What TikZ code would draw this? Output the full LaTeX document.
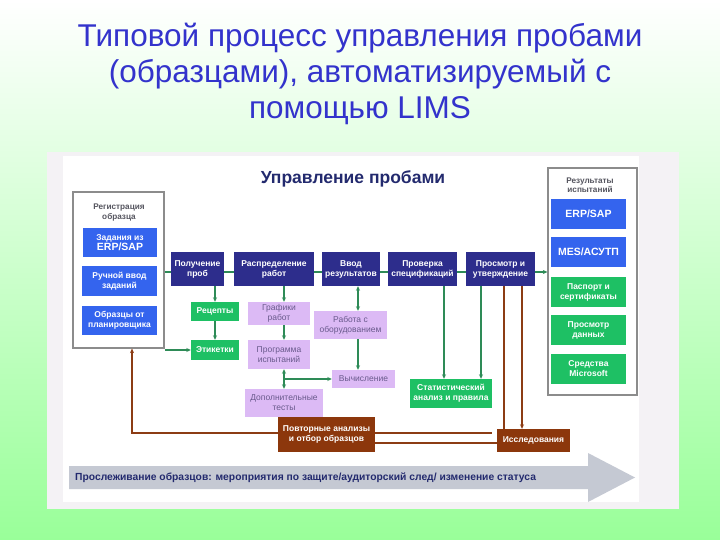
\documentclass[tikz,border=0pt]{standalone}
\usepackage{fontspec}
\setmainfont{Liberation Sans}
\usetikzlibrary{arrows.meta}
\definecolor{cTitle}{RGB}{51,51,204}
\definecolor{cHead}{RGB}{35,42,110}
\definecolor{cNavy}{RGB}{45,45,140}
\definecolor{cBlue}{RGB}{52,100,238}
\definecolor{cGreen}{RGB}{30,192,100}
\definecolor{cPurple}{RGB}{220,186,245}
\definecolor{cPurpleText}{RGB}{105,90,140}
\definecolor{cBrown}{RGB}{140,55,12}
\definecolor{cGLine}{RGB}{46,139,87}
\definecolor{cBLine}{RGB}{140,60,20}
\definecolor{cGrayBorder}{RGB}{140,140,140}
\definecolor{cGroupText}{RGB}{85,85,95}
\definecolor{cFrame}{RGB}{244,242,245}
\definecolor{cArrow}{RGB}{197,201,211}
\definecolor{cBgBottom}{RGB}{153,255,153}
\tikzset{
  base/.style={inner sep=1pt, align=center, font=\fontsize{8.5}{10}\selectfont\bfseries, text=white},
  navybox/.style={base, fill=cNavy},
  bluebox/.style={base, fill=cBlue},
  greenbox/.style={base, fill=cGreen},
  purplebox/.style={base, fill=cPurple, text=cPurpleText, font=\fontsize{8.5}{10}\selectfont},
  brownbox/.style={base, fill=cBrown},
  bigtext/.style={font=\fontsize{10.5}{12}\selectfont\bfseries},
  groupbox/.style={draw=cGrayBorder, line width=1.2pt, fill=white, inner sep=0pt},
  grouptitle/.style={align=center, text=cGroupText, font=\fontsize{8.2}{9.5}\selectfont\bfseries, inner sep=0pt},
  gline/.style={draw=cGLine, line width=1.3pt},
  garrow/.style={gline, -{Stealth[length=4.5pt,width=4pt]}},
  gdarrow/.style={gline, {Stealth[length=4.5pt,width=4pt]}-{Stealth[length=4.5pt,width=4pt]}},
  bline/.style={draw=cBLine, line width=1.3pt},
  barrow/.style={bline, -{Stealth[length=4.5pt,width=4pt]}},
  titletext/.style={text=cTitle, font=\fontsize{31.5}{36}\selectfont, inner sep=0pt, anchor=base},
}
\begin{document}
\begin{tikzpicture}[x=1pt,y=-1pt]
\useasboundingbox (0,0) rectangle (720,540);
\shade[top color=white, bottom color=cBgBottom] (0,0) rectangle (720,540);
% title
\node[titletext] (t1) at (360,47) {Типовой процесс управления пробами};
\node[titletext] (t2) at (360,83) {(образцами), автоматизируемый с};
\node[titletext] (t3) at (360,119) {помощью LIMS};
% screenshot frame
\fill[cFrame] (47,152) rectangle (679,509);
\fill[white] (63,156) rectangle (639,502);
\node[text=cHead, font=\fontsize{17.5}{20}\selectfont\bfseries, inner sep=0pt] (head) at (353,179) {Управление пробами};

% left group
\node[groupbox, minimum width=91pt, minimum height=156pt] (reg) at (118.5,270) {};
\node[grouptitle] (regt) at (119,212.5) {Регистрация\\образца};
\node[bluebox, minimum width=74pt, minimum height=29pt, font=\fontsize{8.5}{9.5}\selectfont\bfseries] (b1) at (120,242.5) {Задания из\\{\fontsize{10.5}{11}\selectfont ERP/SAP}};
\node[bluebox, minimum width=75pt, minimum height=30pt] (b2) at (119.5,281) {Ручной ввод\\заданий};
\node[bluebox, minimum width=75pt, minimum height=29pt] (b3) at (119.5,320.5) {Образцы от\\планировщика};

% results group
\node[groupbox, minimum width=89pt, minimum height=227pt] (res) at (592.5,281.5) {};
\node[grouptitle] (rest) at (590,185) {Результаты\\испытаний};
\node[bluebox, bigtext, minimum width=75pt, minimum height=30pt] (r1) at (588.5,214) {ERP/SAP};
\node[bluebox, bigtext, minimum width=75pt, minimum height=30pt] (r2) at (588.5,252) {MES/АСУТП};
\node[greenbox, minimum width=75pt, minimum height=30pt] (r3) at (588.5,292) {Паспорт и\\сертификаты};
\node[greenbox, minimum width=75pt, minimum height=30pt] (r4) at (588.5,330) {Просмотр\\данных};
\node[greenbox, minimum width=75pt, minimum height=30pt] (r5) at (588.5,369) {Средства\\Microsoft};

% main row
\node[navybox, minimum width=53pt, minimum height=34pt] (p1) at (197.5,269) {Получение\\проб};
\node[navybox, minimum width=80pt, minimum height=34pt] (p2) at (274,269) {Распределение\\работ};
\node[navybox, minimum width=58pt, minimum height=34pt] (p3) at (351,269) {Ввод\\результатов};
\node[navybox, minimum width=69pt, minimum height=34pt] (p4) at (422.5,269) {Проверка\\спецификаций};
\node[navybox, minimum width=69pt, minimum height=34pt] (p5) at (500.5,269) {Просмотр и\\утверждение};

% second level
\node[greenbox, minimum width=48pt, minimum height=19pt] (rec) at (215,311.5) {Рецепты};
\node[greenbox, minimum width=48pt, minimum height=20pt] (lab) at (215,350) {Этикетки};
\node[purplebox, minimum width=62pt, minimum height=23pt] (gr) at (279,313.5) {Графики\\работ};
\node[purplebox, minimum width=62pt, minimum height=29pt] (prog) at (279,354.5) {Программа\\испытаний};
\node[purplebox, minimum width=78pt, minimum height=28pt] (dop) at (284,403) {Дополнительные\\тесты};
\node[purplebox, minimum width=73pt, minimum height=28pt] (rab) at (350.5,325) {Работа с\\оборудованием};
\node[purplebox, minimum width=63pt, minimum height=18pt] (calc) at (363.5,379) {Вычисление};
\node[greenbox, minimum width=82pt, minimum height=29pt] (stat) at (451,393.5) {Статистический\\анализ и правила};

% green main flow
\draw[gline] ([yshift=-3pt]reg.east |- p1.west) -- ([yshift=-3pt]p1.west);
\draw[gline] ([yshift=-3pt]p1.east) -- ([yshift=-3pt]p2.west);
\draw[gline] ([yshift=-3pt]p2.east) -- ([yshift=-3pt]p3.west);
\draw[gline] ([yshift=-3pt]p3.east) -- ([yshift=-3pt]p4.west);
\draw[gline] ([yshift=-3pt]p4.east) -- ([yshift=-3pt]p5.west);
\draw[garrow] ([yshift=-3pt]p5.east) -- ([yshift=-3pt]res.west |- p5.east);

% green vertical arrows
\draw[garrow] (rec.north |- p1.south) -- (rec.north);
\draw[garrow] (rec.south) -- (lab.north);
\draw[garrow] (reg.east |- lab.west) -- (lab.west);
\draw[garrow] ([xshift=10pt]p2.south) -- ([xshift=5pt]gr.north);
\draw[garrow] ([xshift=5pt]gr.south) -- ([xshift=5pt]prog.north);
\draw[gdarrow] ([xshift=5pt]prog.south) -- ([xshift=0pt]dop.north);
\draw[garrow] ([xshift=5pt]prog.south |- calc.west) -- (calc.west);
\draw[gdarrow] ([xshift=7pt]p3.south) -- ([xshift=7.5pt]rab.north);
\draw[garrow] ([xshift=7.5pt]rab.south) -- ([xshift=-5.5pt]calc.north);
\draw[garrow] ([xshift=21.5pt]p4.south) -- ([xshift=-7pt]stat.north);
\draw[garrow] ([xshift=-19.5pt]p5.south) -- ([xshift=30pt]stat.north);

% brown boxes and connectors
\coordinate (bl) at (132,433);
\coordinate (br) at (492,433);
\node[brownbox, minimum width=97pt, minimum height=35pt] (rep) at (326.5,434.5) {Повторные анализы\\и отбор образцов};
\node[brownbox, minimum width=73pt, minimum height=23pt] (isl) at (533.5,440.5) {Исследования};
\draw[bline] ([xshift=3.5pt]p5.south) -- ([xshift=-29.5pt]isl.north);
\draw[barrow] ([xshift=21.5pt]p5.south) -- ([xshift=-11.5pt]isl.north);
\draw[barrow] ([yshift=1.5pt]rep.west) -- (bl) -- (bl |- reg.south);
\draw[bline] ([yshift=1.5pt]rep.east) -- (br);
\draw[bline] ([yshift=-8.5pt]rep.east) -- ([yshift=-2.5pt]isl.west);

% bottom tracking arrow
\fill[cArrow] (69,466) -- (588,466) -- (588,453) -- (635,477.5) -- (588,502) -- (588,489) -- (69,489) -- cycle;
\node[anchor=west, text=cHead, font=\fontsize{10.3}{12}\selectfont\bfseries, inner sep=0pt] (trk) at (75,478) {Прослеживание образцов: мероприятия по защите/аудиторский след/ изменение статуса};
\end{tikzpicture}
\end{document}
